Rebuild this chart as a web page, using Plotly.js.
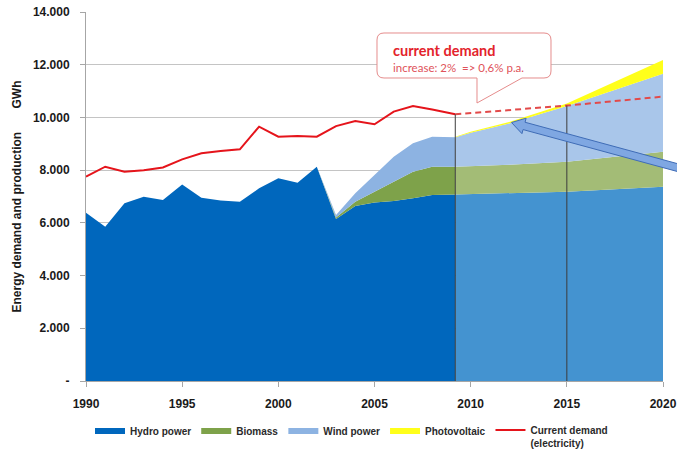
<!DOCTYPE html>
<html>
<head>
<meta charset="utf-8">
<script src="https://cdn.plot.ly/plotly-3.0.1.min.js"></script>
<style>html,body{margin:0;padding:0;background:#fff;}#chart{width:677px;height:454px;}</style>
</head>
<body>
<div id="chart"></div>
<script>
// ---- data (GWh) ----
const histYears   = [1990,1991,1992,1993,1994,1995,1996,1997,1998,1999,2000,2001,2002,2003,2004,2005,2006,2007,2008,2009.2];
const hydroHist   = [6380,5850,6740,6990,6870,7460,6950,6850,6800,7310,7690,7520,8130,6150,6640,6770,6830,6930,7060,7080];
const biomassHist = [0,0,0,0,0,0,0,0,0,0,0,0,0,50,160,410,730,1010,1070,1050];
const windHist    = [0,0,0,0,0,0,0,0,0,0,0,0,0,100,320,630,950,1080,1140,1120];
const demandHist  = [7750,8130,7940,8000,8100,8410,8640,8730,8790,9650,9270,9300,9270,9670,9860,9740,10220,10430,10300,10120];

const projYears   = [2009.2,2010,2012,2015,2020];
const hydroProj   = [7080,7090,7120,7180,7370];
const biomassProj = [1050,1060,1080,1140,1330];
const windProj    = [1120,1270,1570,2110,2960];
const pvProj      = [20,40,60,100,520];

const demandProjYears = [2009.2,2015,2020];
const demandProj      = [10120,10450,10790];

const xTickVals = [1990,1995,2000,2005,2010,2015,2020];
const xTickText = ['1990','1995','2000','2005','2010','2015','2020'];
const yTickVals = [0,2000,4000,6000,8000,10000,12000,14000];
const yTickText = ['-','2.000','4.000','6.000','8.000','10.000','12.000','14.000'];

const seriesNames = ['Hydro power','Biomass','Wind power','Photovoltaic','Current demand<br>(electricity)'];

// ---- layout geometry ----
const W = 677, H = 454;
const M = {l:86, r:14, t:12, b:73};
const PW = W - M.l - M.r, PH = H - M.t - M.b;
const px = v => (v - M.l) / PW;          // pixel x -> paper
const py = v => (H - M.b - v) / PH;      // pixel y -> paper
function pathFrom(cmds){
  return cmds.map(c => c[0] + (c.length>1 ? c.slice(1).map((v,i)=> (i%2===0? px(v): py(v)).toFixed(5)).join(',') : '')).join(' ');
}

const C = {
  hydro:'#0067BD', hydroF:'#4493D0',
  bio:'#7EA24A', bioF:'#A3BC76',
  wind:'#8DB3E2', windF:'#A9C6EA',
  pv:'#FFFF1A', demand:'#E5141B', demandF:'#E24A4A'
};

const area = (x,y,name,color,group,legend) => ({
  x:x, y:y, name:name, type:'scatter', mode:'lines', stackgroup:group,
  line:{width:0, color:color}, fillcolor:color, showlegend:legend, hoverinfo:'skip'
});

const traces = [
  area(histYears, hydroHist,   seriesNames[0], C.hydro, 'hist', true),
  area(histYears, biomassHist, seriesNames[1], C.bio,   'hist', true),
  area(histYears, windHist,    seriesNames[2], C.wind,  'hist', true),
  area(projYears, hydroProj,   seriesNames[0], C.hydroF,'proj', false),
  area(projYears, biomassProj, seriesNames[1], C.bioF,  'proj', false),
  area(projYears, windProj,    seriesNames[2], C.windF, 'proj', false),
  area(projYears, pvProj,      seriesNames[3], C.pv,    'proj', true),
  {x:histYears, y:demandHist, name:seriesNames[4], type:'scatter', mode:'lines',
   line:{color:C.demand, width:2}, showlegend:true, hoverinfo:'skip'},
  {x:demandProjYears, y:demandProj, name:'demand projection', type:'scatter', mode:'lines',
   line:{color:C.demandF, width:2, dash:'6px,4px'}, showlegend:false, hoverinfo:'skip'}
];

// vertical marker lines at projection points
const shapes = [0,1].map(i => ({
  type:'line', xref:'x', yref:'y', x0:demandProjYears[i], x1:demandProjYears[i], y0:0, y1:demandProj[i],
  line:{color:'#3C3C3C', width:1}, layer:'above'
}));

// callout box with tail
shapes.push({
  type:'path', xref:'paper', yref:'paper', layer:'above',
  fillcolor:'#FFFFFF', line:{color:'#E58C8C', width:1},
  path: pathFrom([
    ['M',384,33],['L',544,33],['Q',551,33,551,40],['L',551,71],['Q',551,78,544,78],
    ['L',522,78],['L',477,103],['L',477,78],['L',384,78],['Q',377,78,377,71],
    ['L',377,40],['Q',377,33,384,33],['Z']
  ])
});

// blue pointer arrow
(function(){
  const T = [511.5,122.5], tail = [690,171];
  const dx = tail[0]-T[0], dy = tail[1]-T[1], L = Math.hypot(dx,dy);
  const u = [dx/L, dy/L], n = [-u[1], u[0]];
  const hl = 13, hw = 8, sw = 3.8;
  const B = [T[0]+hl*u[0], T[1]+hl*u[1]];
  const P = (b,k)=>[b[0]+k*n[0], b[1]+k*n[1]];
  const pts = [T, P(B,hw), P(B,sw), P(tail,sw), P(tail,-sw), P(B,-sw), P(B,-hw)];
  shapes.push({
    type:'path', xref:'paper', yref:'paper', layer:'above',
    fillcolor:'#7FA7E2', line:{color:'#3F6CB6', width:1},
    path: pathFrom(pts.map((p,i)=>[i===0?'M':'L', p[0], p[1]]).concat([['Z']]))
  });
})();

const annotations = [
  {xref:'paper', yref:'paper', x:px(391), y:py(50), xanchor:'left', yanchor:'middle', showarrow:false,
   text:'<b>current demand</b>', font:{family:'Lato, Liberation Sans, sans-serif', size:14.5, color:'#E3232B'}},
  {xref:'paper', yref:'paper', x:px(391), y:py(67), xanchor:'left', yanchor:'middle', showarrow:false,
   text:'increase: 2%\u00a0\u00a0=> 0,6% p.a.', font:{family:'Lato, Liberation Sans, sans-serif', size:11.5, color:'#E0525A'}}
];

const layout = {
  width:W, height:H,
  margin:{l:M.l, r:M.r, t:M.t, b:M.b, autoexpand:false},
  paper_bgcolor:'#FFFFFF', plot_bgcolor:'#FFFFFF',
  font:{family:'Liberation Sans, Arial, sans-serif', color:'#222'},
  showlegend:true,
  xaxis:{
    range:[1990,2020], tickvals:xTickVals, ticktext:xTickText,
    showgrid:false, zeroline:false, showline:true, linecolor:'#A6A6A6', linewidth:1,
    ticks:'outside', ticklen:5, tickcolor:'#A6A6A6', ticklabelstandoff:7,
    tickfont:{family:'Liberation Sans, Arial, sans-serif', size:12, color:'#1A1A1A', weight:'bold'}
  },
  yaxis:{
    range:[0,14000], tickvals:yTickVals, ticktext:yTickText,
    showgrid:true, gridcolor:'#C4C4C4', gridwidth:1, zeroline:false,
    showline:true, linecolor:'#A6A6A6', linewidth:1,
    ticks:'outside', ticklen:5, tickcolor:'#A6A6A6', ticklabelstandoff:8,
    tickfont:{family:'Liberation Sans, Arial, sans-serif', size:12, color:'#1A1A1A', weight:'bold'},
    title:{text:'Energy demand and production\u00a0\u00a0\u00a0\u00a0\u00a0\u00a0\u00a0GWh',
           font:{family:'Liberation Sans, Arial, sans-serif', size:12, color:'#1A1A1A', weight:'bold'}, standoff:8}
  },
  legend:{
    orientation:'h', x:px(90), xanchor:'left', y:py(417), yanchor:'top',
    traceorder:'normal', valign:'top', itemwidth:30,
    font:{family:'Liberation Sans, Arial, sans-serif', size:10, color:'#2A2A2A', weight:'bold'},
    bgcolor:'rgba(0,0,0,0)', tracegroupgap:0
  },
  shapes:shapes,
  annotations:annotations
};

Plotly.newPlot('chart', traces, layout, {staticPlot:true, displayModeBar:false});
</script>
</body>
</html>
